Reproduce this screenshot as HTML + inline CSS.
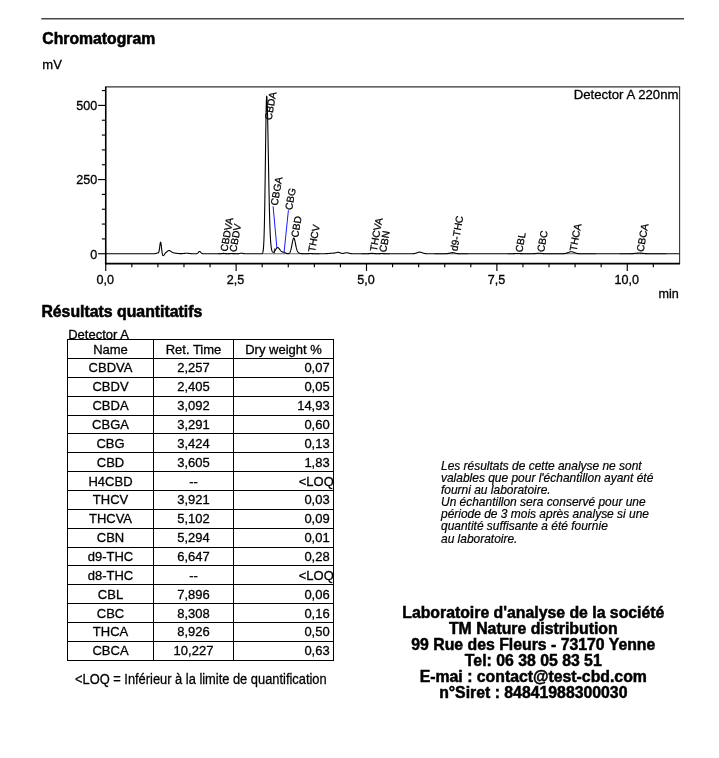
<!DOCTYPE html>
<html lang="fr">
<head>
<meta charset="utf-8">
<title>Chromatogram</title>
<style>
html,body{margin:0;padding:0;background:#fff;}
body{width:719px;height:758px;position:relative;overflow:hidden;font-family:"Liberation Sans",sans-serif;color:#000;-webkit-text-stroke:0.3px #000;}
h1,h2,p{margin:0;padding:0;}
h1,h2{position:absolute;left:42.3px;font-size:15.75px;font-weight:bold;-webkit-text-stroke:0.55px #000;line-height:20px;white-space:nowrap;}
h1{top:29.3px;}
h2{top:302px;left:41.4px;font-size:15.84px;}
.unit{position:absolute;left:42.3px;top:56.5px;font-size:13px;line-height:16px;}
.chart{position:absolute;left:0;top:0;}
.det{position:absolute;left:68.2px;top:327.3px;font-size:13px;line-height:16px;white-space:nowrap;}
table.res{position:absolute;left:67px;top:339px;border-collapse:collapse;font-size:13px;table-layout:fixed;width:267px;}
table.res th,table.res td{border:1px solid #000;height:17.87px;padding:0;font-weight:normal;text-align:center;line-height:17px;vertical-align:middle;white-space:nowrap;}
table.res th:nth-child(1),table.res td:nth-child(1){width:85px;}
table.res th{padding-top:1px;height:16.87px;}
table.res th:nth-child(2),table.res td:nth-child(2){width:79px;}
table.res td:nth-child(3){text-align:right;padding-right:3.3px;}
table.res td.loq{padding-right:0;overflow:hidden;}
table.res td span{display:inline-block;transform:scaleY(1.04);transform-origin:50% 76.5%;}
table.res td.loq span{margin-right:-0.8px;}
.foot{position:absolute;left:74.7px;top:668.6px;font-size:15.5px;line-height:20px;white-space:nowrap;transform:scaleX(0.8297);transform-origin:0 0;}
.note{position:absolute;left:441px;top:460px;font-size:11.96px;font-style:italic;line-height:12px;white-space:nowrap;-webkit-text-stroke:0.2px #000;}
.note span{display:block;height:12px;}
.note span.last{position:relative;top:1px;}
.lab{-webkit-text-stroke:0.5px #000;position:absolute;left:383.3px;top:604.5px;width:300px;text-align:center;font-size:15.82px;font-weight:bold;line-height:16px;white-space:nowrap;}
</style>
</head>
<body>
<h1>Chromatogram</h1>
<div class="unit">mV</div>
<svg class="chart" width="719" height="310" viewBox="0 0 719 310">
<line x1="41.3" y1="18.75" x2="684" y2="18.75" stroke="#484848" stroke-width="1.4"/>
<g stroke="#000" fill="none">
<line x1="105.05" y1="86.90" x2="680.10" y2="86.90" stroke-width="1.1" stroke="#333"/>
<line x1="679.60" y1="86.90" x2="679.60" y2="263.55" stroke-width="1.1" stroke="#333"/>
<line x1="105.75" y1="86.90" x2="105.75" y2="264.35" stroke-width="1.6"/>
<line x1="104.95" y1="263.55" x2="680.10" y2="263.55" stroke-width="1.8"/>
<line x1="98.05" y1="253.75" x2="105.75" y2="253.75" stroke-width="1.15"/>
<line x1="101.85" y1="238.91" x2="105.75" y2="238.91" stroke-width="1.15"/>
<line x1="101.85" y1="224.08" x2="105.75" y2="224.08" stroke-width="1.15"/>
<line x1="101.85" y1="209.25" x2="105.75" y2="209.25" stroke-width="1.15"/>
<line x1="101.85" y1="194.41" x2="105.75" y2="194.41" stroke-width="1.15"/>
<line x1="98.05" y1="179.57" x2="105.75" y2="179.57" stroke-width="1.15"/>
<line x1="101.85" y1="164.74" x2="105.75" y2="164.74" stroke-width="1.15"/>
<line x1="101.85" y1="149.91" x2="105.75" y2="149.91" stroke-width="1.15"/>
<line x1="101.85" y1="135.07" x2="105.75" y2="135.07" stroke-width="1.15"/>
<line x1="101.85" y1="120.24" x2="105.75" y2="120.24" stroke-width="1.15"/>
<line x1="98.05" y1="105.40" x2="105.75" y2="105.40" stroke-width="1.15"/>
<line x1="101.85" y1="90.57" x2="105.75" y2="90.57" stroke-width="1.15"/>
<line x1="105.75" y1="263.55" x2="105.75" y2="270.95" stroke-width="1.15"/>
<line x1="131.82" y1="263.55" x2="131.82" y2="267.25" stroke-width="1.15"/>
<line x1="157.90" y1="263.55" x2="157.90" y2="267.25" stroke-width="1.15"/>
<line x1="183.97" y1="263.55" x2="183.97" y2="267.25" stroke-width="1.15"/>
<line x1="210.05" y1="263.55" x2="210.05" y2="267.25" stroke-width="1.15"/>
<line x1="236.12" y1="263.55" x2="236.12" y2="270.95" stroke-width="1.15"/>
<line x1="262.20" y1="263.55" x2="262.20" y2="267.25" stroke-width="1.15"/>
<line x1="288.27" y1="263.55" x2="288.27" y2="267.25" stroke-width="1.15"/>
<line x1="314.35" y1="263.55" x2="314.35" y2="267.25" stroke-width="1.15"/>
<line x1="340.42" y1="263.55" x2="340.42" y2="267.25" stroke-width="1.15"/>
<line x1="366.50" y1="263.55" x2="366.50" y2="270.95" stroke-width="1.15"/>
<line x1="392.57" y1="263.55" x2="392.57" y2="267.25" stroke-width="1.15"/>
<line x1="418.65" y1="263.55" x2="418.65" y2="267.25" stroke-width="1.15"/>
<line x1="444.72" y1="263.55" x2="444.72" y2="267.25" stroke-width="1.15"/>
<line x1="470.80" y1="263.55" x2="470.80" y2="267.25" stroke-width="1.15"/>
<line x1="496.88" y1="263.55" x2="496.88" y2="270.95" stroke-width="1.15"/>
<line x1="522.95" y1="263.55" x2="522.95" y2="267.25" stroke-width="1.15"/>
<line x1="549.02" y1="263.55" x2="549.02" y2="267.25" stroke-width="1.15"/>
<line x1="575.10" y1="263.55" x2="575.10" y2="267.25" stroke-width="1.15"/>
<line x1="601.17" y1="263.55" x2="601.17" y2="267.25" stroke-width="1.15"/>
<line x1="627.25" y1="263.55" x2="627.25" y2="270.95" stroke-width="1.15"/>
<line x1="653.32" y1="263.55" x2="653.32" y2="267.25" stroke-width="1.15"/>
</g>
<path d="M105.75 253.75 L106.00 253.75 L106.25 253.75 L106.50 253.75 L106.75 253.75 L107.00 253.75 L107.25 253.75 L107.50 253.75 L107.75 253.75 L107.99 253.75 L108.24 253.75 L108.49 253.75 L108.74 253.75 L108.99 253.75 L109.24 253.75 L109.49 253.75 L109.74 253.75 L109.99 253.75 L110.24 253.75 L110.49 253.75 L110.74 253.75 L110.99 253.75 L111.24 253.75 L111.49 253.75 L111.74 253.75 L111.99 253.75 L112.23 253.75 L112.48 253.75 L112.73 253.75 L112.98 253.75 L113.23 253.75 L113.48 253.75 L113.73 253.75 L113.98 253.75 L114.23 253.75 L114.48 253.75 L114.73 253.75 L114.98 253.75 L115.23 253.75 L115.48 253.75 L115.73 253.75 L115.98 253.75 L116.23 253.75 L116.47 253.75 L116.72 253.75 L116.97 253.75 L117.22 253.75 L117.47 253.75 L117.72 253.75 L117.97 253.75 L118.22 253.75 L118.47 253.75 L118.72 253.75 L118.97 253.75 L119.22 253.75 L119.47 253.75 L119.72 253.75 L119.97 253.75 L120.22 253.75 L120.47 253.75 L120.71 253.75 L120.96 253.75 L121.21 253.75 L121.46 253.75 L121.71 253.75 L121.96 253.75 L122.21 253.75 L122.46 253.75 L122.71 253.75 L122.96 253.75 L123.21 253.75 L123.46 253.75 L123.71 253.75 L123.96 253.75 L124.21 253.75 L124.46 253.75 L124.71 253.75 L124.95 253.75 L125.20 253.75 L125.45 253.75 L125.70 253.75 L125.95 253.75 L126.20 253.75 L126.45 253.75 L126.70 253.75 L126.95 253.75 L127.20 253.75 L127.45 253.75 L127.70 253.75 L127.95 253.75 L128.20 253.75 L128.45 253.75 L128.70 253.75 L128.95 253.75 L129.19 253.75 L129.44 253.75 L129.69 253.75 L129.94 253.75 L130.19 253.75 L130.44 253.75 L130.69 253.75 L130.94 253.75 L131.19 253.75 L131.44 253.75 L131.69 253.75 L131.94 253.75 L132.19 253.75 L132.44 253.75 L132.69 253.75 L132.94 253.75 L133.19 253.75 L133.43 253.75 L133.68 253.75 L133.93 253.75 L134.18 253.75 L134.43 253.75 L134.68 253.75 L134.93 253.75 L135.18 253.75 L135.43 253.75 L135.68 253.75 L135.93 253.75 L136.18 253.75 L136.43 253.75 L136.68 253.75 L136.93 253.75 L137.18 253.75 L137.43 253.75 L137.67 253.75 L137.92 253.75 L138.17 253.75 L138.42 253.75 L138.67 253.75 L138.92 253.75 L139.17 253.75 L139.42 253.75 L139.67 253.75 L139.92 253.75 L140.17 253.75 L140.42 253.75 L140.67 253.75 L140.92 253.75 L141.17 253.75 L141.42 253.75 L141.67 253.75 L141.91 253.75 L142.16 253.75 L142.41 253.75 L142.66 253.75 L142.91 253.75 L143.16 253.75 L143.41 253.75 L143.66 253.75 L143.91 253.75 L144.16 253.75 L144.41 253.75 L144.66 253.75 L144.91 253.75 L145.16 253.75 L145.41 253.75 L145.66 253.75 L145.91 253.75 L146.15 253.75 L146.40 253.75 L146.65 253.75 L146.90 253.75 L147.15 253.75 L147.40 253.75 L147.65 253.75 L147.90 253.75 L148.15 253.75 L148.40 253.75 L148.65 253.75 L148.90 253.75 L149.15 253.75 L149.40 253.75 L149.65 253.75 L149.90 253.75 L150.15 253.75 L150.39 253.75 L150.64 253.75 L150.89 253.75 L151.14 253.75 L151.39 253.75 L151.64 253.75 L151.89 253.75 L152.14 253.75 L152.39 253.75 L152.64 253.75 L152.89 253.75 L153.14 253.74 L153.39 253.74 L153.64 253.73 L153.89 253.72 L154.14 253.71 L154.39 253.69 L154.63 253.67 L154.88 253.64 L155.13 253.60 L155.38 253.56 L155.63 253.51 L155.88 253.45 L156.13 253.38 L156.38 253.31 L156.63 253.25 L156.88 253.18 L157.13 253.13 L157.38 253.08 L157.63 253.04 L157.88 253.00 L158.13 252.92 L158.38 252.76 L158.63 252.44 L158.87 251.84 L159.12 250.87 L159.37 249.45 L159.62 247.63 L159.87 245.62 L160.12 243.76 L160.37 242.49 L160.62 242.12 L160.87 242.78 L161.12 244.36 L161.37 246.52 L161.62 248.85 L161.87 251.00 L162.12 252.77 L162.37 254.07 L162.62 254.93 L162.87 255.43 L163.12 255.65 L163.36 255.64 L163.61 255.47 L163.86 255.19 L164.11 254.84 L164.36 254.47 L164.61 254.11 L164.86 253.77 L165.11 253.47 L165.36 253.20 L165.61 252.95 L165.86 252.71 L166.11 252.48 L166.36 252.25 L166.61 252.02 L166.86 251.78 L167.11 251.55 L167.36 251.33 L167.60 251.13 L167.85 250.94 L168.10 250.78 L168.35 250.66 L168.60 250.57 L168.85 250.52 L169.10 250.52 L169.35 250.55 L169.60 250.62 L169.85 250.73 L170.10 250.86 L170.35 251.02 L170.60 251.19 L170.85 251.37 L171.10 251.55 L171.35 251.74 L171.60 251.91 L171.84 252.07 L172.09 252.22 L172.34 252.36 L172.59 252.48 L172.84 252.59 L173.09 252.68 L173.34 252.76 L173.59 252.82 L173.84 252.88 L174.09 252.93 L174.34 252.98 L174.59 253.02 L174.84 253.06 L175.09 253.10 L175.34 253.13 L175.59 253.17 L175.84 253.20 L176.08 253.24 L176.33 253.27 L176.58 253.31 L176.83 253.34 L177.08 253.38 L177.33 253.41 L177.58 253.44 L177.83 253.47 L178.08 253.50 L178.33 253.53 L178.58 253.55 L178.83 253.58 L179.08 253.60 L179.33 253.61 L179.58 253.63 L179.83 253.64 L180.08 253.65 L180.32 253.65 L180.57 253.66 L180.82 253.66 L181.07 253.66 L181.32 253.65 L181.57 253.65 L181.82 253.63 L182.07 253.62 L182.32 253.60 L182.57 253.59 L182.82 253.56 L183.07 253.54 L183.32 253.52 L183.57 253.49 L183.82 253.46 L184.07 253.43 L184.32 253.41 L184.56 253.38 L184.81 253.35 L185.06 253.33 L185.31 253.31 L185.56 253.29 L185.81 253.27 L186.06 253.26 L186.31 253.25 L186.56 253.25 L186.81 253.25 L187.06 253.26 L187.31 253.27 L187.56 253.28 L187.81 253.30 L188.06 253.32 L188.31 253.35 L188.56 253.37 L188.80 253.40 L189.05 253.43 L189.30 253.46 L189.55 253.49 L189.80 253.52 L190.05 253.54 L190.30 253.57 L190.55 253.59 L190.80 253.61 L191.05 253.63 L191.30 253.65 L191.55 253.67 L191.80 253.68 L192.05 253.69 L192.30 253.70 L192.55 253.71 L192.80 253.72 L193.04 253.73 L193.29 253.73 L193.54 253.74 L193.79 253.74 L194.04 253.74 L194.29 253.74 L194.54 253.74 L194.79 253.75 L195.04 253.75 L195.29 253.74 L195.54 253.74 L195.79 253.74 L196.04 253.72 L196.29 253.70 L196.54 253.67 L196.79 253.61 L197.04 253.52 L197.28 253.40 L197.53 253.24 L197.78 253.04 L198.03 252.79 L198.28 252.52 L198.53 252.23 L198.78 251.95 L199.03 251.71 L199.28 251.54 L199.53 251.46 L199.78 251.47 L200.03 251.58 L200.28 251.77 L200.53 252.02 L200.78 252.30 L201.03 252.59 L201.28 252.86 L201.52 253.10 L201.77 253.29 L202.02 253.44 L202.27 253.55 L202.52 253.63 L202.77 253.68 L203.02 253.71 L203.27 253.73 L203.52 253.74 L203.77 253.74 L204.02 253.75 L204.27 253.75 L204.52 253.75 L204.77 253.75 L205.02 253.75 L205.27 253.75 L205.52 253.75 L205.76 253.75 L206.01 253.75 L206.26 253.75 L206.51 253.75 L206.76 253.75 L207.01 253.75 L207.26 253.75 L207.51 253.75 L207.76 253.75 L208.01 253.75 L208.26 253.75 L208.51 253.75 L208.76 253.75 L209.01 253.75 L209.26 253.75 L209.51 253.75 L209.76 253.75 L210.00 253.75 L210.25 253.75 L210.50 253.75 L210.75 253.75 L211.00 253.75 L211.25 253.75 L211.50 253.75 L211.75 253.75 L212.00 253.75 L212.25 253.75 L212.50 253.75 L212.75 253.75 L213.00 253.75 L213.25 253.75 L213.50 253.75 L213.75 253.75 L214.00 253.75 L214.24 253.75 L214.49 253.75 L214.74 253.75 L214.99 253.75 L215.24 253.75 L215.49 253.75 L215.74 253.75 L215.99 253.75 L216.24 253.75 L216.49 253.75 L216.74 253.75 L216.99 253.75 L217.24 253.75 L217.49 253.75 L217.74 253.75 L217.99 253.75 L218.24 253.75 L218.48 253.75 L218.73 253.75 L218.98 253.74 L219.23 253.74 L219.48 253.74 L219.73 253.73 L219.98 253.72 L220.23 253.71 L220.48 253.69 L220.73 253.67 L220.98 253.65 L221.23 253.62 L221.48 253.59 L221.73 253.56 L221.98 253.53 L222.23 253.49 L222.48 253.46 L222.72 253.44 L222.97 253.42 L223.22 253.40 L223.47 253.40 L223.72 253.41 L223.97 253.42 L224.22 253.44 L224.47 253.47 L224.72 253.50 L224.97 253.53 L225.22 253.56 L225.47 253.60 L225.72 253.63 L225.97 253.65 L226.22 253.67 L226.47 253.69 L226.72 253.71 L226.96 253.71 L227.21 253.72 L227.46 253.72 L227.71 253.72 L227.96 253.71 L228.21 253.70 L228.46 253.68 L228.71 253.66 L228.96 253.64 L229.21 253.61 L229.46 253.58 L229.71 253.56 L229.96 253.53 L230.21 253.50 L230.46 253.48 L230.71 253.46 L230.96 253.45 L231.20 253.45 L231.45 253.45 L231.70 253.47 L231.95 253.49 L232.20 253.51 L232.45 253.54 L232.70 253.56 L232.95 253.59 L233.20 253.62 L233.45 253.65 L233.70 253.67 L233.95 253.69 L234.20 253.70 L234.45 253.72 L234.70 253.73 L234.95 253.73 L235.20 253.74 L235.44 253.74 L235.69 253.74 L235.94 253.75 L236.19 253.75 L236.44 253.75 L236.69 253.74 L236.94 253.74 L237.19 253.73 L237.44 253.73 L237.69 253.72 L237.94 253.70 L238.19 253.68 L238.44 253.66 L238.69 253.63 L238.94 253.60 L239.19 253.56 L239.44 253.51 L239.68 253.46 L239.93 253.42 L240.18 253.37 L240.43 253.33 L240.68 253.29 L240.93 253.27 L241.18 253.25 L241.43 253.25 L241.68 253.26 L241.93 253.28 L242.18 253.32 L242.43 253.36 L242.68 253.40 L242.93 253.45 L243.18 253.50 L243.43 253.54 L243.68 253.59 L243.92 253.62 L244.17 253.65 L244.42 253.68 L244.67 253.70 L244.92 253.71 L245.17 253.73 L245.42 253.73 L245.67 253.74 L245.92 253.74 L246.17 253.75 L246.42 253.75 L246.67 253.75 L246.92 253.75 L247.17 253.75 L247.42 253.75 L247.67 253.75 L247.92 253.75 L248.16 253.75 L248.41 253.75 L248.66 253.75 L248.91 253.75 L249.16 253.75 L249.41 253.75 L249.66 253.75 L249.91 253.75 L250.16 253.75 L250.41 253.75 L250.66 253.75 L250.91 253.75 L251.16 253.75 L251.41 253.75 L251.66 253.75 L251.91 253.75 L252.16 253.75 L252.40 253.75 L252.65 253.75 L252.90 253.75 L253.15 253.75 L253.40 253.75 L253.65 253.75 L253.90 253.75 L254.15 253.75 L254.40 253.75 L254.65 253.75 L254.90 253.75 L255.15 253.75 L255.40 253.75 L255.65 253.75 L255.90 253.75 L256.15 253.75 L256.40 253.75 L256.64 253.75 L256.89 253.75 L257.14 253.75 L257.39 253.75 L257.64 253.75 L257.89 253.75 L258.14 253.75 L258.39 253.75 L258.64 253.75 L258.89 253.75 L259.14 253.75 L259.39 253.75 L259.64 253.75 L259.89 253.75 L260.14 253.75 L260.39 253.75 L260.64 253.75 L260.88 253.75 L261.13 253.74 L261.38 253.73 L261.63 253.70 L261.88 253.65 L262.13 253.54 L262.38 253.32 L262.63 252.92 L262.88 252.20 L263.13 250.96 L263.38 248.94 L263.63 245.77 L263.88 241.02 L264.13 234.24 L264.38 225.00 L264.63 213.05 L264.88 198.37 L265.12 181.32 L265.37 162.72 L265.62 143.78 L265.87 126.06 L266.12 111.24 L266.37 100.88 L266.62 96.12 L266.87 96.75 L267.12 100.86 L267.37 108.11 L267.62 118.00 L267.87 129.93 L268.12 143.21 L268.37 157.13 L268.62 171.03 L268.87 184.34 L269.12 196.64 L269.36 207.62 L269.61 217.12 L269.86 225.12 L270.11 231.67 L270.36 236.91 L270.61 241.01 L270.86 244.14 L271.11 246.51 L271.36 248.26 L271.61 249.55 L271.86 250.49 L272.11 251.16 L272.36 251.63 L272.61 251.95 L272.86 252.14 L273.11 252.24 L273.36 252.25 L273.60 252.18 L273.85 252.04 L274.10 251.84 L274.35 251.58 L274.60 251.27 L274.85 250.91 L275.10 250.52 L275.35 250.11 L275.60 249.70 L275.85 249.28 L276.10 248.89 L276.35 248.52 L276.60 248.20 L276.85 247.94 L277.10 247.74 L277.35 247.61 L277.60 247.56 L277.85 247.57 L278.09 247.66 L278.34 247.82 L278.59 248.03 L278.84 248.29 L279.09 248.59 L279.34 248.91 L279.59 249.25 L279.84 249.59 L280.09 249.92 L280.34 250.25 L280.59 250.55 L280.84 250.83 L281.09 251.08 L281.34 251.30 L281.59 251.48 L281.84 251.64 L282.09 251.77 L282.33 251.87 L282.58 251.95 L282.83 252.01 L283.08 252.06 L283.33 252.10 L283.58 252.15 L283.83 252.20 L284.08 252.26 L284.33 252.33 L284.58 252.42 L284.83 252.52 L285.08 252.63 L285.33 252.76 L285.58 252.88 L285.83 253.01 L286.08 253.12 L286.33 253.24 L286.57 253.34 L286.82 253.42 L287.07 253.49 L287.32 253.55 L287.57 253.58 L287.82 253.61 L288.07 253.61 L288.32 253.59 L288.57 253.54 L288.82 253.47 L289.07 253.34 L289.32 253.17 L289.57 252.93 L289.82 252.60 L290.07 252.17 L290.32 251.62 L290.57 250.94 L290.81 250.12 L291.06 249.15 L291.31 248.05 L291.56 246.82 L291.81 245.51 L292.06 244.14 L292.31 242.78 L292.56 241.49 L292.81 240.32 L293.06 239.34 L293.31 238.60 L293.56 238.14 L293.81 238.00 L294.06 238.17 L294.31 238.65 L294.56 239.39 L294.81 240.37 L295.05 241.51 L295.30 242.75 L295.55 244.05 L295.80 245.33 L296.05 246.56 L296.30 247.69 L296.55 248.71 L296.80 249.59 L297.05 250.34 L297.30 250.97 L297.55 251.48 L297.80 251.89 L298.05 252.22 L298.30 252.47 L298.55 252.68 L298.80 252.84 L299.05 252.97 L299.29 253.07 L299.54 253.16 L299.79 253.24 L300.04 253.31 L300.29 253.37 L300.54 253.42 L300.79 253.47 L301.04 253.51 L301.29 253.55 L301.54 253.58 L301.79 253.61 L302.04 253.63 L302.29 253.66 L302.54 253.67 L302.79 253.69 L303.04 253.70 L303.29 253.71 L303.53 253.72 L303.78 253.73 L304.03 253.73 L304.28 253.74 L304.53 253.74 L304.78 253.74 L305.03 253.74 L305.28 253.74 L305.53 253.74 L305.78 253.74 L306.03 253.74 L306.28 253.74 L306.53 253.73 L306.78 253.72 L307.03 253.71 L307.28 253.70 L307.53 253.68 L307.77 253.66 L308.02 253.64 L308.27 253.61 L308.52 253.58 L308.77 253.56 L309.02 253.53 L309.27 253.50 L309.52 253.48 L309.77 253.46 L310.02 253.45 L310.27 253.45 L310.52 253.46 L310.77 253.47 L311.02 253.49 L311.27 253.51 L311.52 253.54 L311.77 253.56 L312.01 253.59 L312.26 253.62 L312.51 253.65 L312.76 253.67 L313.01 253.69 L313.26 253.70 L313.51 253.72 L313.76 253.73 L314.01 253.73 L314.26 253.74 L314.51 253.74 L314.76 253.75 L315.01 253.75 L315.26 253.75 L315.51 253.75 L315.76 253.75 L316.01 253.75 L316.25 253.75 L316.50 253.75 L316.75 253.75 L317.00 253.75 L317.25 253.75 L317.50 253.75 L317.75 253.75 L318.00 253.75 L318.25 253.75 L318.50 253.75 L318.75 253.75 L319.00 253.75 L319.25 253.75 L319.50 253.75 L319.75 253.75 L320.00 253.75 L320.25 253.75 L320.49 253.75 L320.74 253.75 L320.99 253.75 L321.24 253.75 L321.49 253.74 L321.74 253.74 L321.99 253.74 L322.24 253.74 L322.49 253.74 L322.74 253.74 L322.99 253.73 L323.24 253.73 L323.49 253.73 L323.74 253.72 L323.99 253.72 L324.24 253.71 L324.49 253.71 L324.73 253.70 L324.98 253.70 L325.23 253.69 L325.48 253.68 L325.73 253.67 L325.98 253.66 L326.23 253.65 L326.48 253.64 L326.73 253.63 L326.98 253.61 L327.23 253.60 L327.48 253.58 L327.73 253.57 L327.98 253.55 L328.23 253.53 L328.48 253.51 L328.73 253.49 L328.97 253.47 L329.22 253.45 L329.47 253.43 L329.72 253.41 L329.97 253.39 L330.22 253.37 L330.47 253.34 L330.72 253.32 L330.97 253.30 L331.22 253.28 L331.47 253.26 L331.72 253.24 L331.97 253.23 L332.22 253.21 L332.47 253.19 L332.72 253.18 L332.97 253.16 L333.21 253.14 L333.46 253.13 L333.71 253.11 L333.96 253.09 L334.21 253.06 L334.46 253.04 L334.71 253.00 L334.96 252.96 L335.21 252.92 L335.46 252.86 L335.71 252.80 L335.96 252.73 L336.21 252.66 L336.46 252.59 L336.71 252.51 L336.96 252.44 L337.21 252.38 L337.45 252.33 L337.70 252.30 L337.95 252.28 L338.20 252.28 L338.45 252.30 L338.70 252.34 L338.95 252.40 L339.20 252.47 L339.45 252.56 L339.70 252.66 L339.95 252.77 L340.20 252.88 L340.45 252.98 L340.70 253.08 L340.95 253.17 L341.20 253.25 L341.45 253.32 L341.69 253.37 L341.94 253.41 L342.19 253.44 L342.44 253.45 L342.69 253.45 L342.94 253.44 L343.19 253.41 L343.44 253.38 L343.69 253.33 L343.94 253.28 L344.19 253.22 L344.44 253.16 L344.69 253.09 L344.94 253.02 L345.19 252.96 L345.44 252.90 L345.69 252.84 L345.93 252.80 L346.18 252.77 L346.43 252.75 L346.68 252.74 L346.93 252.75 L347.18 252.77 L347.43 252.81 L347.68 252.85 L347.93 252.91 L348.18 252.97 L348.43 253.04 L348.68 253.12 L348.93 253.19 L349.18 253.26 L349.43 253.33 L349.68 253.39 L349.93 253.45 L350.17 253.50 L350.42 253.55 L350.67 253.59 L350.92 253.62 L351.17 253.65 L351.42 253.67 L351.67 253.69 L351.92 253.71 L352.17 253.72 L352.42 253.73 L352.67 253.73 L352.92 253.74 L353.17 253.74 L353.42 253.74 L353.67 253.75 L353.92 253.75 L354.17 253.75 L354.41 253.75 L354.66 253.75 L354.91 253.75 L355.16 253.75 L355.41 253.75 L355.66 253.75 L355.91 253.75 L356.16 253.75 L356.41 253.75 L356.66 253.75 L356.91 253.75 L357.16 253.75 L357.41 253.75 L357.66 253.75 L357.91 253.75 L358.16 253.75 L358.41 253.75 L358.65 253.75 L358.90 253.75 L359.15 253.75 L359.40 253.75 L359.65 253.75 L359.90 253.75 L360.15 253.75 L360.40 253.75 L360.65 253.75 L360.90 253.75 L361.15 253.75 L361.40 253.75 L361.65 253.75 L361.90 253.75 L362.15 253.75 L362.40 253.75 L362.65 253.75 L362.89 253.75 L363.14 253.75 L363.39 253.75 L363.64 253.75 L363.89 253.75 L364.14 253.75 L364.39 253.75 L364.64 253.75 L364.89 253.75 L365.14 253.75 L365.39 253.75 L365.64 253.75 L365.89 253.74 L366.14 253.74 L366.39 253.74 L366.64 253.73 L366.89 253.73 L367.13 253.72 L367.38 253.71 L367.63 253.70 L367.88 253.68 L368.13 253.67 L368.38 253.65 L368.63 253.63 L368.88 253.60 L369.13 253.58 L369.38 253.55 L369.63 253.52 L369.88 253.49 L370.13 253.46 L370.38 253.44 L370.63 253.41 L370.88 253.39 L371.13 253.37 L371.37 253.36 L371.62 253.35 L371.87 253.35 L372.12 253.35 L372.37 253.36 L372.62 253.38 L372.87 253.40 L373.12 253.42 L373.37 253.45 L373.62 253.47 L373.87 253.50 L374.12 253.53 L374.37 253.56 L374.62 253.59 L374.87 253.61 L375.12 253.63 L375.37 253.65 L375.61 253.67 L375.86 253.69 L376.11 253.70 L376.36 253.71 L376.61 253.71 L376.86 253.72 L377.11 253.72 L377.36 253.72 L377.61 253.72 L377.86 253.71 L378.11 253.71 L378.36 253.70 L378.61 253.69 L378.86 253.68 L379.11 253.66 L379.36 253.65 L379.61 253.64 L379.85 253.62 L380.10 253.61 L380.35 253.59 L380.60 253.58 L380.85 253.57 L381.10 253.56 L381.35 253.56 L381.60 253.55 L381.85 253.55 L382.10 253.55 L382.35 253.56 L382.60 253.56 L382.85 253.57 L383.10 253.58 L383.35 253.60 L383.60 253.61 L383.85 253.62 L384.09 253.64 L384.34 253.65 L384.59 253.67 L384.84 253.68 L385.09 253.69 L385.34 253.70 L385.59 253.71 L385.84 253.72 L386.09 253.73 L386.34 253.73 L386.59 253.74 L386.84 253.74 L387.09 253.74 L387.34 253.74 L387.59 253.75 L387.84 253.75 L388.09 253.75 L388.33 253.75 L388.58 253.75 L388.83 253.75 L389.08 253.75 L389.33 253.75 L389.58 253.75 L389.83 253.75 L390.08 253.75 L390.33 253.75 L390.58 253.75 L390.83 253.75 L391.08 253.75 L391.33 253.75 L391.58 253.75 L391.83 253.75 L392.08 253.75 L392.33 253.75 L392.57 253.75 L392.82 253.75 L393.07 253.75 L393.32 253.75 L393.57 253.75 L393.82 253.75 L394.07 253.75 L394.32 253.75 L394.57 253.75 L394.82 253.75 L395.07 253.75 L395.32 253.75 L395.57 253.75 L395.82 253.75 L396.07 253.75 L396.32 253.75 L396.57 253.75 L396.82 253.75 L397.06 253.75 L397.31 253.75 L397.56 253.75 L397.81 253.75 L398.06 253.75 L398.31 253.75 L398.56 253.75 L398.81 253.75 L399.06 253.75 L399.31 253.75 L399.56 253.75 L399.81 253.75 L400.06 253.75 L400.31 253.75 L400.56 253.75 L400.81 253.75 L401.06 253.75 L401.30 253.75 L401.55 253.75 L401.80 253.75 L402.05 253.75 L402.30 253.75 L402.55 253.75 L402.80 253.75 L403.05 253.75 L403.30 253.75 L403.55 253.75 L403.80 253.75 L404.05 253.75 L404.30 253.75 L404.55 253.75 L404.80 253.75 L405.05 253.75 L405.30 253.75 L405.54 253.75 L405.79 253.75 L406.04 253.75 L406.29 253.75 L406.54 253.75 L406.79 253.75 L407.04 253.75 L407.29 253.75 L407.54 253.75 L407.79 253.75 L408.04 253.75 L408.29 253.75 L408.54 253.75 L408.79 253.75 L409.04 253.75 L409.29 253.75 L409.54 253.75 L409.78 253.75 L410.03 253.75 L410.28 253.75 L410.53 253.75 L410.78 253.75 L411.03 253.74 L411.28 253.74 L411.53 253.74 L411.78 253.73 L412.03 253.73 L412.28 253.72 L412.53 253.71 L412.78 253.70 L413.03 253.69 L413.28 253.67 L413.53 253.65 L413.78 253.63 L414.02 253.60 L414.27 253.57 L414.52 253.53 L414.77 253.48 L415.02 253.43 L415.27 253.37 L415.52 253.31 L415.77 253.23 L416.02 253.16 L416.27 253.07 L416.52 252.99 L416.77 252.90 L417.02 252.80 L417.27 252.71 L417.52 252.62 L417.77 252.53 L418.02 252.45 L418.26 252.37 L418.51 252.31 L418.76 252.25 L419.01 252.20 L419.26 252.17 L419.51 252.15 L419.76 252.15 L420.01 252.16 L420.26 252.19 L420.51 252.23 L420.76 252.28 L421.01 252.34 L421.26 252.41 L421.51 252.49 L421.76 252.58 L422.01 252.67 L422.26 252.76 L422.50 252.86 L422.75 252.95 L423.00 253.04 L423.25 253.12 L423.50 253.20 L423.75 253.27 L424.00 253.34 L424.25 253.40 L424.50 253.46 L424.75 253.51 L425.00 253.55 L425.25 253.58 L425.50 253.62 L425.75 253.64 L426.00 253.66 L426.25 253.68 L426.50 253.70 L426.74 253.71 L426.99 253.72 L427.24 253.73 L427.49 253.73 L427.74 253.74 L427.99 253.74 L428.24 253.74 L428.49 253.74 L428.74 253.75 L428.99 253.75 L429.24 253.75 L429.49 253.75 L429.74 253.75 L429.99 253.75 L430.24 253.75 L430.49 253.75 L430.74 253.75 L430.98 253.75 L431.23 253.75 L431.48 253.75 L431.73 253.75 L431.98 253.75 L432.23 253.75 L432.48 253.75 L432.73 253.75 L432.98 253.75 L433.23 253.75 L433.48 253.75 L433.73 253.75 L433.98 253.75 L434.23 253.75 L434.48 253.75 L434.73 253.75 L434.98 253.75 L435.22 253.75 L435.47 253.75 L435.72 253.75 L435.97 253.75 L436.22 253.75 L436.47 253.75 L436.72 253.75 L436.97 253.75 L437.22 253.75 L437.47 253.75 L437.72 253.75 L437.97 253.75 L438.22 253.75 L438.47 253.75 L438.72 253.75 L438.97 253.75 L439.22 253.75 L439.46 253.75 L439.71 253.75 L439.96 253.75 L440.21 253.75 L440.46 253.75 L440.71 253.75 L440.96 253.75 L441.21 253.75 L441.46 253.75 L441.71 253.75 L441.96 253.75 L442.21 253.75 L442.46 253.75 L442.71 253.75 L442.96 253.75 L443.21 253.75 L443.46 253.75 L443.70 253.75 L443.95 253.74 L444.20 253.74 L444.45 253.74 L444.70 253.74 L444.95 253.73 L445.20 253.73 L445.45 253.72 L445.70 253.71 L445.95 253.70 L446.20 253.68 L446.45 253.67 L446.70 253.65 L446.95 253.63 L447.20 253.60 L447.45 253.57 L447.70 253.53 L447.94 253.49 L448.19 253.45 L448.44 253.40 L448.69 253.35 L448.94 253.29 L449.19 253.23 L449.44 253.17 L449.69 253.11 L449.94 253.04 L450.19 252.98 L450.44 252.92 L450.69 252.86 L450.94 252.81 L451.19 252.76 L451.44 252.72 L451.69 252.69 L451.94 252.67 L452.18 252.65 L452.43 252.65 L452.68 252.66 L452.93 252.67 L453.18 252.70 L453.43 252.73 L453.68 252.78 L453.93 252.83 L454.18 252.88 L454.43 252.94 L454.68 253.00 L454.93 253.06 L455.18 253.13 L455.43 253.19 L455.68 253.25 L455.93 253.31 L456.18 253.37 L456.42 253.42 L456.67 253.46 L456.92 253.51 L457.17 253.55 L457.42 253.58 L457.67 253.61 L457.92 253.63 L458.17 253.66 L458.42 253.67 L458.67 253.69 L458.92 253.70 L459.17 253.71 L459.42 253.72 L459.67 253.73 L459.92 253.73 L460.17 253.74 L460.42 253.74 L460.66 253.74 L460.91 253.74 L461.16 253.75 L461.41 253.75 L461.66 253.75 L461.91 253.75 L462.16 253.75 L462.41 253.75 L462.66 253.75 L462.91 253.75 L463.16 253.75 L463.41 253.75 L463.66 253.75 L463.91 253.75 L464.16 253.75 L464.41 253.75 L464.66 253.75 L464.90 253.75 L465.15 253.75 L465.40 253.75 L465.65 253.75 L465.90 253.75 L466.15 253.75 L466.40 253.75 L466.65 253.75 L466.90 253.75 L467.15 253.75 L467.40 253.75 L467.65 253.75 L467.90 253.75 L468.15 253.75 L468.40 253.75 L468.65 253.75 L468.90 253.75 L469.14 253.75 L469.39 253.75 L469.64 253.75 L469.89 253.75 L470.14 253.75 L470.39 253.75 L470.64 253.75 L470.89 253.75 L471.14 253.75 L471.39 253.75 L471.64 253.75 L471.89 253.75 L472.14 253.75 L472.39 253.75 L472.64 253.75 L472.89 253.75 L473.14 253.75 L473.38 253.75 L473.63 253.75 L473.88 253.75 L474.13 253.75 L474.38 253.75 L474.63 253.75 L474.88 253.75 L475.13 253.75 L475.38 253.75 L475.63 253.75 L475.88 253.75 L476.13 253.75 L476.38 253.75 L476.63 253.75 L476.88 253.75 L477.13 253.75 L477.38 253.75 L477.62 253.75 L477.87 253.75 L478.12 253.75 L478.37 253.75 L478.62 253.75 L478.87 253.75 L479.12 253.75 L479.37 253.75 L479.62 253.75 L479.87 253.75 L480.12 253.75 L480.37 253.75 L480.62 253.75 L480.87 253.75 L481.12 253.75 L481.37 253.75 L481.62 253.75 L481.86 253.75 L482.11 253.75 L482.36 253.75 L482.61 253.75 L482.86 253.75 L483.11 253.75 L483.36 253.75 L483.61 253.75 L483.86 253.75 L484.11 253.75 L484.36 253.75 L484.61 253.75 L484.86 253.75 L485.11 253.75 L485.36 253.75 L485.61 253.75 L485.86 253.75 L486.10 253.75 L486.35 253.75 L486.60 253.75 L486.85 253.75 L487.10 253.75 L487.35 253.75 L487.60 253.75 L487.85 253.75 L488.10 253.75 L488.35 253.75 L488.60 253.75 L488.85 253.75 L489.10 253.75 L489.35 253.75 L489.60 253.75 L489.85 253.75 L490.10 253.75 L490.34 253.75 L490.59 253.75 L490.84 253.75 L491.09 253.75 L491.34 253.75 L491.59 253.75 L491.84 253.75 L492.09 253.75 L492.34 253.75 L492.59 253.75 L492.84 253.75 L493.09 253.75 L493.34 253.75 L493.59 253.75 L493.84 253.75 L494.09 253.75 L494.34 253.75 L494.58 253.75 L494.83 253.75 L495.08 253.75 L495.33 253.75 L495.58 253.75 L495.83 253.75 L496.08 253.75 L496.33 253.75 L496.58 253.75 L496.83 253.75 L497.08 253.75 L497.33 253.75 L497.58 253.75 L497.83 253.75 L498.08 253.75 L498.33 253.75 L498.58 253.75 L498.82 253.75 L499.07 253.75 L499.32 253.75 L499.57 253.75 L499.82 253.75 L500.07 253.75 L500.32 253.75 L500.57 253.75 L500.82 253.75 L501.07 253.75 L501.32 253.75 L501.57 253.75 L501.82 253.75 L502.07 253.75 L502.32 253.75 L502.57 253.75 L502.82 253.75 L503.06 253.75 L503.31 253.75 L503.56 253.75 L503.81 253.75 L504.06 253.75 L504.31 253.75 L504.56 253.75 L504.81 253.75 L505.06 253.75 L505.31 253.75 L505.56 253.75 L505.81 253.75 L506.06 253.75 L506.31 253.75 L506.56 253.75 L506.81 253.75 L507.06 253.75 L507.31 253.75 L507.55 253.75 L507.80 253.75 L508.05 253.75 L508.30 253.75 L508.55 253.75 L508.80 253.75 L509.05 253.75 L509.30 253.75 L509.55 253.75 L509.80 253.75 L510.05 253.75 L510.30 253.74 L510.55 253.74 L510.80 253.74 L511.05 253.74 L511.30 253.73 L511.55 253.73 L511.79 253.72 L512.04 253.72 L512.29 253.71 L512.54 253.70 L512.79 253.69 L513.04 253.68 L513.29 253.67 L513.54 253.66 L513.79 253.64 L514.04 253.63 L514.29 253.61 L514.54 253.59 L514.79 253.58 L515.04 253.56 L515.29 253.54 L515.54 253.53 L515.79 253.51 L516.03 253.50 L516.28 253.48 L516.53 253.47 L516.78 253.46 L517.03 253.46 L517.28 253.45 L517.53 253.45 L517.78 253.45 L518.03 253.46 L518.28 253.46 L518.53 253.47 L518.78 253.48 L519.03 253.50 L519.28 253.51 L519.53 253.53 L519.78 253.54 L520.03 253.56 L520.27 253.58 L520.52 253.60 L520.77 253.61 L521.02 253.63 L521.27 253.64 L521.52 253.66 L521.77 253.67 L522.02 253.68 L522.27 253.69 L522.52 253.70 L522.77 253.71 L523.02 253.72 L523.27 253.72 L523.52 253.73 L523.77 253.73 L524.02 253.74 L524.27 253.74 L524.51 253.74 L524.76 253.74 L525.01 253.75 L525.26 253.75 L525.51 253.75 L525.76 253.75 L526.01 253.75 L526.26 253.75 L526.51 253.75 L526.76 253.75 L527.01 253.75 L527.26 253.75 L527.51 253.75 L527.76 253.75 L528.01 253.75 L528.26 253.75 L528.51 253.75 L528.75 253.75 L529.00 253.75 L529.25 253.75 L529.50 253.75 L529.75 253.75 L530.00 253.75 L530.25 253.75 L530.50 253.75 L530.75 253.75 L531.00 253.75 L531.25 253.74 L531.50 253.74 L531.75 253.74 L532.00 253.74 L532.25 253.73 L532.50 253.73 L532.75 253.72 L532.99 253.72 L533.24 253.71 L533.49 253.70 L533.74 253.69 L533.99 253.67 L534.24 253.66 L534.49 253.64 L534.74 253.62 L534.99 253.60 L535.24 253.57 L535.49 253.55 L535.74 253.52 L535.99 253.49 L536.24 253.47 L536.49 253.44 L536.74 253.41 L536.99 253.38 L537.23 253.35 L537.48 253.33 L537.73 253.31 L537.98 253.29 L538.23 253.27 L538.48 253.26 L538.73 253.25 L538.98 253.25 L539.23 253.25 L539.48 253.26 L539.73 253.27 L539.98 253.28 L540.23 253.30 L540.48 253.32 L540.73 253.35 L540.98 253.37 L541.23 253.40 L541.47 253.43 L541.72 253.46 L541.97 253.49 L542.22 253.52 L542.47 253.54 L542.72 253.57 L542.97 253.59 L543.22 253.61 L543.47 253.63 L543.72 253.65 L543.97 253.67 L544.22 253.68 L544.47 253.69 L544.72 253.70 L544.97 253.71 L545.22 253.72 L545.47 253.73 L545.71 253.73 L545.96 253.74 L546.21 253.74 L546.46 253.74 L546.71 253.74 L546.96 253.75 L547.21 253.75 L547.46 253.75 L547.71 253.75 L547.96 253.75 L548.21 253.75 L548.46 253.75 L548.71 253.75 L548.96 253.75 L549.21 253.75 L549.46 253.75 L549.71 253.75 L549.95 253.75 L550.20 253.75 L550.45 253.75 L550.70 253.75 L550.95 253.75 L551.20 253.75 L551.45 253.75 L551.70 253.75 L551.95 253.75 L552.20 253.75 L552.45 253.75 L552.70 253.75 L552.95 253.75 L553.20 253.75 L553.45 253.75 L553.70 253.75 L553.95 253.75 L554.19 253.75 L554.44 253.75 L554.69 253.75 L554.94 253.75 L555.19 253.75 L555.44 253.75 L555.69 253.75 L555.94 253.75 L556.19 253.75 L556.44 253.75 L556.69 253.75 L556.94 253.75 L557.19 253.75 L557.44 253.75 L557.69 253.75 L557.94 253.75 L558.19 253.75 L558.43 253.75 L558.68 253.75 L558.93 253.75 L559.18 253.75 L559.43 253.75 L559.68 253.75 L559.93 253.75 L560.18 253.75 L560.43 253.74 L560.68 253.74 L560.93 253.74 L561.18 253.74 L561.43 253.74 L561.68 253.73 L561.93 253.73 L562.18 253.72 L562.43 253.71 L562.67 253.70 L562.92 253.69 L563.17 253.68 L563.42 253.66 L563.67 253.64 L563.92 253.62 L564.17 253.59 L564.42 253.56 L564.67 253.53 L564.92 253.49 L565.17 253.45 L565.42 253.40 L565.67 253.34 L565.92 253.28 L566.17 253.21 L566.42 253.14 L566.67 253.06 L566.91 252.98 L567.16 252.89 L567.41 252.80 L567.66 252.71 L567.91 252.61 L568.16 252.52 L568.41 252.42 L568.66 252.33 L568.91 252.23 L569.16 252.15 L569.41 252.07 L569.66 251.99 L569.91 251.92 L570.16 251.87 L570.41 251.82 L570.66 251.78 L570.91 251.76 L571.15 251.75 L571.40 251.75 L571.65 251.77 L571.90 251.79 L572.15 251.83 L572.40 251.88 L572.65 251.94 L572.90 252.01 L573.15 252.09 L573.40 252.17 L573.65 252.26 L573.90 252.36 L574.15 252.45 L574.40 252.55 L574.65 252.64 L574.90 252.74 L575.15 252.83 L575.39 252.92 L575.64 253.01 L575.89 253.09 L576.14 253.16 L576.39 253.23 L576.64 253.30 L576.89 253.36 L577.14 253.41 L577.39 253.46 L577.64 253.50 L577.89 253.54 L578.14 253.57 L578.39 253.60 L578.64 253.63 L578.89 253.65 L579.14 253.67 L579.39 253.68 L579.63 253.70 L579.88 253.71 L580.13 253.71 L580.38 253.72 L580.63 253.73 L580.88 253.73 L581.13 253.74 L581.38 253.74 L581.63 253.74 L581.88 253.74 L582.13 253.75 L582.38 253.75 L582.63 253.75 L582.88 253.75 L583.13 253.75 L583.38 253.75 L583.63 253.75 L583.87 253.75 L584.12 253.75 L584.37 253.75 L584.62 253.75 L584.87 253.75 L585.12 253.75 L585.37 253.75 L585.62 253.75 L585.87 253.75 L586.12 253.75 L586.37 253.75 L586.62 253.75 L586.87 253.75 L587.12 253.75 L587.37 253.75 L587.62 253.75 L587.87 253.75 L588.11 253.75 L588.36 253.75 L588.61 253.75 L588.86 253.75 L589.11 253.75 L589.36 253.75 L589.61 253.75 L589.86 253.75 L590.11 253.75 L590.36 253.75 L590.61 253.75 L590.86 253.75 L591.11 253.75 L591.36 253.75 L591.61 253.75 L591.86 253.75 L592.11 253.75 L592.35 253.75 L592.60 253.75 L592.85 253.75 L593.10 253.75 L593.35 253.75 L593.60 253.75 L593.85 253.75 L594.10 253.75 L594.35 253.75 L594.60 253.75 L594.85 253.75 L595.10 253.75 L595.35 253.75 L595.60 253.75 L595.85 253.75 L596.10 253.75 L596.35 253.75 L596.59 253.75 L596.84 253.75 L597.09 253.75 L597.34 253.75 L597.59 253.75 L597.84 253.75 L598.09 253.75 L598.34 253.75 L598.59 253.75 L598.84 253.75 L599.09 253.75 L599.34 253.75 L599.59 253.75 L599.84 253.75 L600.09 253.75 L600.34 253.75 L600.59 253.75 L600.83 253.75 L601.08 253.75 L601.33 253.75 L601.58 253.75 L601.83 253.75 L602.08 253.75 L602.33 253.75 L602.58 253.75 L602.83 253.75 L603.08 253.75 L603.33 253.75 L603.58 253.75 L603.83 253.75 L604.08 253.75 L604.33 253.75 L604.58 253.75 L604.83 253.75 L605.07 253.75 L605.32 253.75 L605.57 253.75 L605.82 253.75 L606.07 253.75 L606.32 253.75 L606.57 253.75 L606.82 253.75 L607.07 253.75 L607.32 253.75 L607.57 253.75 L607.82 253.75 L608.07 253.75 L608.32 253.75 L608.57 253.75 L608.82 253.75 L609.07 253.75 L609.31 253.75 L609.56 253.75 L609.81 253.75 L610.06 253.75 L610.31 253.75 L610.56 253.75 L610.81 253.75 L611.06 253.75 L611.31 253.75 L611.56 253.75 L611.81 253.75 L612.06 253.75 L612.31 253.75 L612.56 253.75 L612.81 253.75 L613.06 253.75 L613.31 253.75 L613.55 253.75 L613.80 253.75 L614.05 253.75 L614.30 253.75 L614.55 253.75 L614.80 253.75 L615.05 253.75 L615.30 253.75 L615.55 253.75 L615.80 253.75 L616.05 253.75 L616.30 253.75 L616.55 253.75 L616.80 253.75 L617.05 253.75 L617.30 253.75 L617.55 253.75 L617.79 253.75 L618.04 253.75 L618.29 253.75 L618.54 253.75 L618.79 253.75 L619.04 253.75 L619.29 253.75 L619.54 253.75 L619.79 253.75 L620.04 253.75 L620.29 253.75 L620.54 253.75 L620.79 253.75 L621.04 253.75 L621.29 253.75 L621.54 253.75 L621.79 253.75 L622.03 253.75 L622.28 253.75 L622.53 253.75 L622.78 253.75 L623.03 253.75 L623.28 253.75 L623.53 253.75 L623.78 253.75 L624.03 253.75 L624.28 253.75 L624.53 253.75 L624.78 253.75 L625.03 253.75 L625.28 253.75 L625.53 253.75 L625.78 253.75 L626.03 253.75 L626.28 253.75 L626.52 253.75 L626.77 253.75 L627.02 253.75 L627.27 253.75 L627.52 253.75 L627.77 253.74 L628.02 253.74 L628.27 253.74 L628.52 253.74 L628.77 253.74 L629.02 253.73 L629.27 253.73 L629.52 253.73 L629.77 253.72 L630.02 253.72 L630.27 253.71 L630.52 253.71 L630.76 253.70 L631.01 253.69 L631.26 253.68 L631.51 253.67 L631.76 253.66 L632.01 253.64 L632.26 253.63 L632.51 253.61 L632.76 253.59 L633.01 253.58 L633.26 253.55 L633.51 253.53 L633.76 253.51 L634.01 253.48 L634.26 253.46 L634.51 253.43 L634.76 253.40 L635.00 253.38 L635.25 253.35 L635.50 253.32 L635.75 253.29 L636.00 253.26 L636.25 253.23 L636.50 253.21 L636.75 253.18 L637.00 253.16 L637.25 253.13 L637.50 253.11 L637.75 253.10 L638.00 253.08 L638.25 253.07 L638.50 253.06 L638.75 253.05 L639.00 253.05 L639.24 253.05 L639.49 253.05 L639.74 253.06 L639.99 253.07 L640.24 253.08 L640.49 253.10 L640.74 253.12 L640.99 253.14 L641.24 253.16 L641.49 253.19 L641.74 253.21 L641.99 253.24 L642.24 253.27 L642.49 253.30 L642.74 253.33 L642.99 253.35 L643.24 253.38 L643.48 253.41 L643.73 253.44 L643.98 253.47 L644.23 253.49 L644.48 253.52 L644.73 253.54 L644.98 253.56 L645.23 253.58 L645.48 253.60 L645.73 253.62 L645.98 253.63 L646.23 253.65 L646.48 253.66 L646.73 253.67 L646.98 253.68 L647.23 253.69 L647.48 253.70 L647.72 253.71 L647.97 253.71 L648.22 253.72 L648.47 253.72 L648.72 253.73 L648.97 253.73 L649.22 253.74 L649.47 253.74 L649.72 253.74 L649.97 253.74 L650.22 253.74 L650.47 253.74 L650.72 253.75 L650.97 253.75 L651.22 253.75 L651.47 253.75 L651.72 253.75 L651.96 253.75 L652.21 253.75 L652.46 253.75 L652.71 253.75 L652.96 253.75 L653.21 253.75 L653.46 253.75 L653.71 253.75 L653.96 253.75 L654.21 253.75 L654.46 253.75 L654.71 253.75 L654.96 253.75 L655.21 253.75 L655.46 253.75 L655.71 253.75 L655.96 253.75 L656.20 253.75 L656.45 253.75 L656.70 253.75 L656.95 253.75 L657.20 253.75 L657.45 253.75 L657.70 253.75 L657.95 253.75 L658.20 253.75 L658.45 253.75 L658.70 253.75 L658.95 253.75 L659.20 253.75 L659.45 253.75 L659.70 253.75 L659.95 253.75 L660.20 253.75 L660.44 253.75 L660.69 253.75 L660.94 253.75 L661.19 253.75 L661.44 253.75 L661.69 253.75 L661.94 253.75 L662.19 253.75 L662.44 253.75 L662.69 253.75 L662.94 253.75 L663.19 253.75 L663.44 253.75 L663.69 253.75 L663.94 253.75 L664.19 253.75 L664.44 253.75 L664.68 253.75 L664.93 253.75 L665.18 253.75 L665.43 253.75 L665.68 253.75 L665.93 253.75 L666.18 253.75 L666.43 253.75 L666.68 253.75 L666.93 253.75 L667.18 253.75 L667.43 253.75 L667.68 253.75 L667.93 253.75 L668.18 253.75 L668.43 253.75 L668.68 253.75 L668.92 253.75 L669.17 253.75 L669.42 253.75 L669.67 253.75 L669.92 253.75 L670.17 253.75 L670.42 253.75 L670.67 253.75 L670.92 253.75 L671.17 253.75 L671.42 253.75 L671.67 253.75 L671.92 253.75 L672.17 253.75 L672.42 253.75 L672.67 253.75 L672.92 253.75 L673.16 253.75 L673.41 253.75 L673.66 253.75 L673.91 253.75 L674.16 253.75 L674.41 253.75 L674.66 253.75 L674.91 253.75 L675.16 253.75 L675.41 253.75 L675.66 253.75 L675.91 253.75 L676.16 253.75 L676.41 253.75 L676.66 253.75 L676.91 253.75 L677.16 253.75 L677.40 253.75 L677.65 253.75 L677.90 253.75 L678.15 253.75 L678.40 253.75 L678.65 253.75 L678.90 253.75 L679.15 253.75 L679.40 253.75" fill="none" stroke="#000" stroke-width="1.1" stroke-linejoin="round"/>
<line x1="217.87" y1="253.75" x2="238.73" y2="253.75" stroke="#000" stroke-width="0.6"/>
<line x1="262.20" y1="253.75" x2="319.56" y2="253.75" stroke="#000" stroke-width="0.6"/>
<line x1="361.29" y1="253.75" x2="389.97" y2="253.75" stroke="#000" stroke-width="0.6"/>
<line x1="434.29" y1="253.75" x2="468.19" y2="253.75" stroke="#000" stroke-width="0.6"/>
<line x1="507.31" y1="253.75" x2="595.96" y2="253.75" stroke="#000" stroke-width="0.6"/>
<line x1="619.43" y1="253.75" x2="666.36" y2="253.75" stroke="#000" stroke-width="0.6"/>
<line x1="273.1" y1="206.3" x2="276.9" y2="248.1" stroke="#1a1aff" stroke-width="1"/>
<line x1="288.4" y1="210.3" x2="284.0" y2="253.1" stroke="#1a1aff" stroke-width="1"/>
<line x1="274.4" y1="248.5" x2="274.4" y2="253.5" stroke="#000" stroke-width="0.8"/>
<g font-family="'Liberation Sans', sans-serif" font-size="10.2" fill="#000" stroke="#000" stroke-width="0.25">
<text transform="translate(227.3 252.1) rotate(-80)">CBDVA</text>
<text transform="translate(236.3 252.5) rotate(-80)">CBDV</text>
<text transform="translate(271.5 120.5) rotate(-80)">CBDA</text>
<text transform="translate(277.5 206.0) rotate(-80)">CBGA</text>
<text transform="translate(292.0 210.5) rotate(-80)">CBG</text>
<text transform="translate(298.0 238.0) rotate(-80)">CBD</text>
<text transform="translate(315.0 252.5) rotate(-80)">THCV</text>
<text transform="translate(376.7 251.7) rotate(-80)">THCVA</text>
<text transform="translate(386.1 252.8) rotate(-80)">CBN</text>
<text transform="translate(457.2 251.5) rotate(-80)">d9-THC</text>
<text transform="translate(522.2 252.7) rotate(-80)">CBL</text>
<text transform="translate(544.0 252.5) rotate(-80)">CBC</text>
<text transform="translate(576.5 251.5) rotate(-80)">THCA</text>
<text transform="translate(643.5 252.2) rotate(-80)">CBCA</text>
</g>
<g font-family="'Liberation Sans', sans-serif" font-size="12.6" fill="#000" stroke="#000" stroke-width="0.3">
<text transform="translate(97.35 258.60) scale(1 1.05)" text-anchor="end">0</text>
<text transform="translate(97.35 184.42) scale(1 1.05)" text-anchor="end">250</text>
<text transform="translate(97.35 110.25) scale(1 1.05)" text-anchor="end">500</text>
<text transform="translate(105.25 283.90) scale(1 1.05)" text-anchor="middle">0,0</text>
<text transform="translate(235.62 283.90) scale(1 1.05)" text-anchor="middle">2,5</text>
<text transform="translate(366.00 283.90) scale(1 1.05)" text-anchor="middle">5,0</text>
<text transform="translate(496.38 283.90) scale(1 1.05)" text-anchor="middle">7,5</text>
<text transform="translate(626.75 283.90) scale(1 1.05)" text-anchor="middle">10,0</text>
<text x="678.8" y="298.4" text-anchor="end">min</text>
<text x="678.5" y="98.6" text-anchor="end" font-size="13.2">Detector A 220nm</text>
</g>
</svg>
<h2>Résultats quantitatifs</h2>
<div class="det">Detector A</div>
<table class="res">
<thead><tr><th>Name</th><th>Ret. Time</th><th>Dry weight %</th></tr></thead>
<tbody>
<tr><td><span>CBDVA</span></td><td><span>2,257</span></td><td><span>0,07</span></td></tr>
<tr><td><span>CBDV</span></td><td><span>2,405</span></td><td><span>0,05</span></td></tr>
<tr><td><span>CBDA</span></td><td><span>3,092</span></td><td><span>14,93</span></td></tr>
<tr><td><span>CBGA</span></td><td><span>3,291</span></td><td><span>0,60</span></td></tr>
<tr><td><span>CBG</span></td><td><span>3,424</span></td><td><span>0,13</span></td></tr>
<tr><td><span>CBD</span></td><td><span>3,605</span></td><td><span>1,83</span></td></tr>
<tr><td><span>H4CBD</span></td><td><span>--</span></td><td class="loq"><span>&lt;LOQ</span></td></tr>
<tr><td><span>THCV</span></td><td><span>3,921</span></td><td><span>0,03</span></td></tr>
<tr><td><span>THCVA</span></td><td><span>5,102</span></td><td><span>0,09</span></td></tr>
<tr><td><span>CBN</span></td><td><span>5,294</span></td><td><span>0,01</span></td></tr>
<tr><td><span>d9-THC</span></td><td><span>6,647</span></td><td><span>0,28</span></td></tr>
<tr><td><span>d8-THC</span></td><td><span>--</span></td><td class="loq"><span>&lt;LOQ</span></td></tr>
<tr><td><span>CBL</span></td><td><span>7,896</span></td><td><span>0,06</span></td></tr>
<tr><td><span>CBC</span></td><td><span>8,308</span></td><td><span>0,16</span></td></tr>
<tr><td><span>THCA</span></td><td><span>8,926</span></td><td><span>0,50</span></td></tr>
<tr><td><span>CBCA</span></td><td><span>10,227</span></td><td><span>0,63</span></td></tr>
</tbody></table>
<p class="foot">&lt;LOQ = Inférieur à la limite de quantification</p>
<p class="note"><span>Les résultats de cette analyse ne sont</span><span>valables que pour l'échantillon ayant été</span><span>fourni au laboratoire.</span><span>Un échantillon sera conservé pour une</span><span>période de 3 mois après analyse si une</span><span>quantité suffisante a été fournie</span><span class="last">au laboratoire.</span></p>
<p class="lab">Laboratoire d'analyse de la société<br>TM Nature distribution<br>99 Rue des Fleurs - 73170 Yenne<br>Tel: 06 38 05 83 51<br>E-mai : contact@test-cbd.com<br>n°Siret : 84841988300030</p>
</body>
</html>
